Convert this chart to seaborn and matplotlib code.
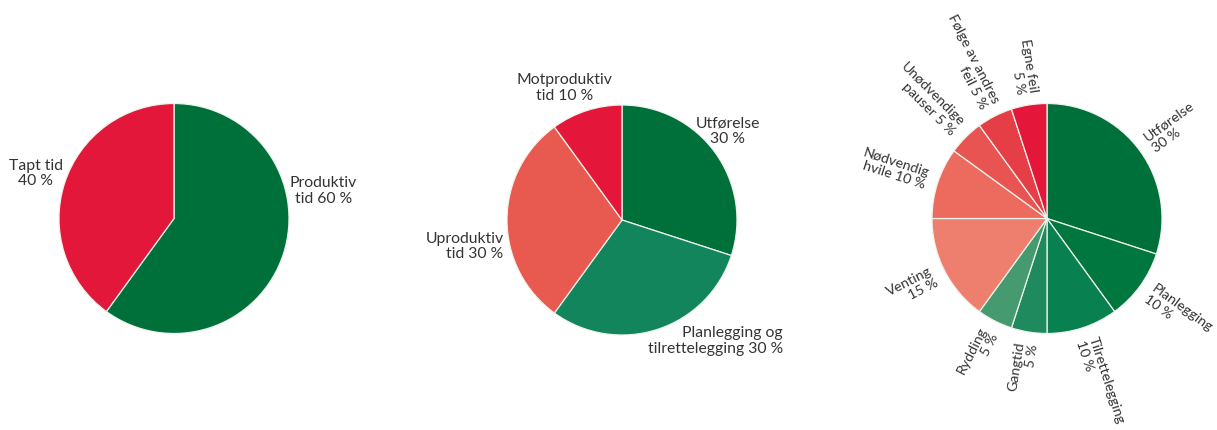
import matplotlib
matplotlib.use('Agg')
import matplotlib.pyplot as plt
import seaborn as sns
import numpy as np

sns.set_theme(style='white')
plt.rcParams['font.family'] = ['Lato', 'DejaVu Sans']

# ---- data ----
pie1_labels = ['Produktiv\ntid 60 %', 'Tapt tid\n40 %']
pie1_values = [60, 40]

pie2_labels = ['Utførelse\n30 %', 'Planlegging og\ntilrettelegging 30 %',
               'Uproduktiv\ntid 30 %', 'Motproduktiv\ntid 10 %']
pie2_values = [30, 30, 30, 10]

pie3_labels = ['Utførelse\n30 %', 'Planlegging\n10 %', 'Tilrettelegging\n10 %',
               'Gangtid\n5 %', 'Rydding\n5 %', 'Venting\n15 %',
               'Nødvendig\nhvile 10 %', 'Unødvendige\npauser 5 %',
               'Følge av andres\nfeil 5 %', 'Egne feil\n5 %']
pie3_values = [30, 10, 10, 5, 5, 15, 10, 5, 5, 5]

# ---- styles ----
pie1_colors = ['#00703B', '#E3173A']
pie2_colors = ['#00703B', '#12855C', '#E85A50', '#E4173A']
pie3_colors = sns.color_palette(['#00703B', '#00773F', '#088050', '#1E8A5D', '#469A70',
                                 '#EE7F6E', '#EC6A5E', '#E85452', '#E53E46', '#E4163A'])

# label placement for pies 1 and 2 (in pie-radius units), text block centres
pie1_label_pos = [(1.30, 0.24), (-1.20, 0.39)]
pie1_label_align = ['center', 'center']
pie2_label_pos = [(0.92, 0.77), (0.81, -1.05), (-1.37, -0.23), (-0.50, 1.15)]
pie2_label_align = ['center', 'right', 'right', 'center']

TEXT_COLOR = '#333333'
FS = 11.3
FS3 = 10.3
EDGE = dict(edgecolor='#eef3ea', linewidth=0.9)

W, H = 1217, 430
fig = plt.figure(figsize=(W / 100, H / 100), dpi=100)
fig.patch.set_facecolor('white')

R = 115
L = 1.5


def make_ax(cx, cy):
    half = R * L
    ax = fig.add_axes([(cx - half) / W, (H - cy - half) / H, 2 * half / W, 2 * half / H])
    return ax


def draw_pie(ax, values, colors):
    ax.pie(values, colors=colors, startangle=90, counterclock=False, radius=1,
           wedgeprops=EDGE)
    ax.set_xlim(-L, L)
    ax.set_ylim(-L, L)
    ax.set_aspect('equal')
    ax.axis('off')


# Pie 1
ax1 = make_ax(174, 218.5)
draw_pie(ax1, pie1_values, pie1_colors)
for lab, (x, y), al in zip(pie1_labels, pie1_label_pos, pie1_label_align):
    ax1.text(x, y, lab, ha='center', va='center', multialignment=al,
             fontsize=FS, color=TEXT_COLOR, linespacing=1.15)

# Pie 2
ax2 = make_ax(622, 220)
draw_pie(ax2, pie2_values, pie2_colors)
for lab, (x, y), al in zip(pie2_labels, pie2_label_pos, pie2_label_align):
    ax2.text(x, y, lab, ha='center', va='center', multialignment=al,
             fontsize=FS, color=TEXT_COLOR, linespacing=1.15)

# Pie 3 with radial labels
ax3 = make_ax(1047, 218.5)
draw_pie(ax3, pie3_values, pie3_colors)
total = float(sum(pie3_values))
cum = np.cumsum(pie3_values)
for lab, v, c in zip(pie3_labels, pie3_values, cum):
    mid_cw = (c - v / 2.0) / total * 360.0
    theta = np.deg2rad(90.0 - mid_cw)
    d = 1.1
    x, y = d * np.cos(theta), d * np.sin(theta)
    if x >= 0:
        ha = 'left'
        rot = np.rad2deg(theta)
    else:
        ha = 'right'
        rot = np.rad2deg(theta) + 180.0
    ax3.text(x, y, lab, ha=ha, va='center', multialignment=ha, rotation=rot,
             rotation_mode='anchor', fontsize=FS3, color=TEXT_COLOR,
             linespacing=1.12, clip_on=False)

fig.savefig('out.png', dpi=100, facecolor='white')
